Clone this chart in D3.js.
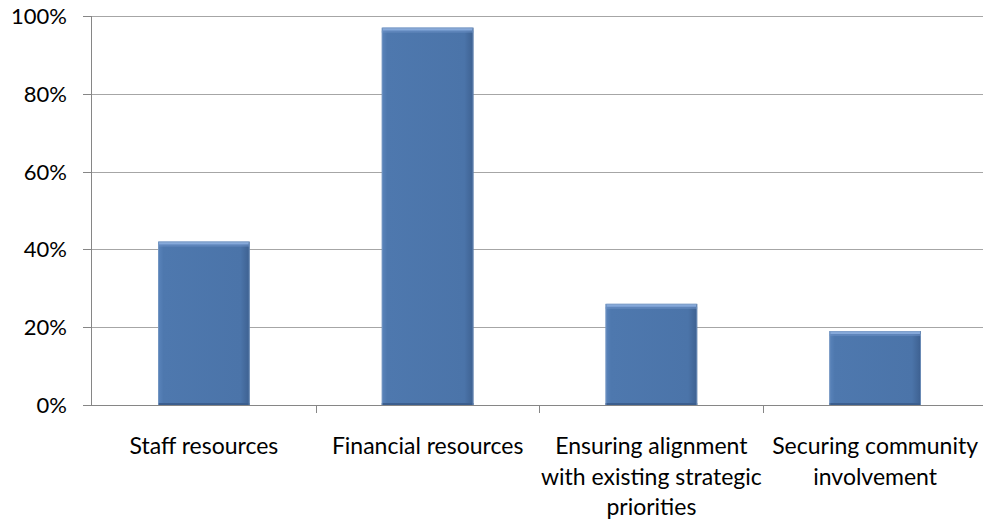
<!DOCTYPE html>
<html><head><meta charset="utf-8">
<script src="https://cdn.jsdelivr.net/npm/d3@7"></script>
<style>
html,body{margin:0;padding:0;background:#fff;}
svg{display:block;}
text{font-family:"Lato","DejaVu Sans Condensed",sans-serif;fill:#000;}
</style></head>
<body>
<svg id="chart" width="983" height="520"></svg>
<script>
const categories = ["Staff resources","Financial resources","Ensuring alignment with existing strategic priorities","Securing community involvement"];
const categoryLines = [["Staff resources"],["Financial resources"],["Ensuring alignment","with existing strategic","priorities"],["Securing community","involvement"]];
const values = [42, 97, 26, 19];
const yTicks = [0,20,40,60,80,100];

(function(){
const svg = d3.select("#chart");
const pLeft = 91, pRight = 983, pTop = 16, pBottom = 405;
const x = d3.scaleBand().domain(categories).range([92, 987]).paddingInner(0.59).paddingOuter(0.295);
const y = d3.scaleLinear().domain([0,100]).range([pBottom, pTop]);

const defs = svg.append("defs");
const gH = defs.append("linearGradient").attr("id","gh").attr("x1","0").attr("x2","1").attr("y1","0").attr("y2","0");
gH.append("stop").attr("offset","0").attr("stop-color","#5a84bb");
gH.append("stop").attr("offset","0.06").attr("stop-color","#4e78ae");
gH.append("stop").attr("offset","0.9").attr("stop-color","#4b74a9");
gH.append("stop").attr("offset","1").attr("stop-color","#3d6090");

svg.append("g").selectAll("line").data(yTicks.filter(d=>d>0)).join("line")
  .attr("x1", pLeft-8).attr("x2", pRight).attr("y1", d=>Math.round(y(d))+0.5).attr("y2", d=>Math.round(y(d))+0.5)
  .attr("stroke","#a6a6a6").attr("stroke-width",1);

const bg = svg.append("g").selectAll("g").data(values).join("g");
bg.append("rect")
  .attr("x",(d,i)=>x(categories[i])).attr("y",d=>y(d)).attr("width",x.bandwidth()).attr("height",d=>pBottom+1-y(d))
  .attr("fill","url(#gh)");
bg.append("rect")
  .attr("x",(d,i)=>x(categories[i])+1).attr("y",d=>y(d)).attr("width",x.bandwidth()-2).attr("height",3)
  .attr("fill","#86a9da");
bg.append("rect")
  .attr("x",(d,i)=>x(categories[i])).attr("y",d=>y(d)+3).attr("width",x.bandwidth()).attr("height",2)
  .attr("fill","#6b90c4").attr("opacity",0.6);
bg.append("rect")
  .attr("x",(d,i)=>x(categories[i])).attr("y",d=>pBottom-2).attr("width",x.bandwidth()).attr("height",3)
  .attr("fill","#3b5e8e");
bg.append("rect")
  .attr("x",(d,i)=>x(categories[i])+0.5).attr("y",d=>y(d)+0.5).attr("width",x.bandwidth()-1).attr("height",d=>pBottom-y(d))
  .attr("fill","none").attr("stroke","#7e9cc4").attr("stroke-width",1).attr("opacity",0.7);

svg.append("line").attr("x1",pLeft+0.5).attr("x2",pLeft+0.5).attr("y1",pTop).attr("y2",pBottom).attr("stroke","#868686");
svg.append("g").selectAll("line").data(yTicks).join("line")
  .attr("x1",pLeft-8).attr("x2",pLeft).attr("y1",d=>Math.round(y(d))+0.5).attr("y2",d=>Math.round(y(d))+0.5).attr("stroke","#868686");
svg.append("g").selectAll("text").data(yTicks).join("text")
  .attr("x",67).attr("y",d=>y(d)).attr("dy","0.36em").attr("text-anchor","end")
  .style("font-size","22px").text(d=>d+"%");

svg.append("line").attr("x1",pLeft-8).attr("x2",pRight).attr("y1",pBottom+0.5).attr("y2",pBottom+0.5).attr("stroke","#868686");
const bounds = categories.map(c=>x(c)-x.step()*x.paddingInner()/2);
svg.append("g").selectAll("line").data(bounds.slice(1)).join("line")
  .attr("x1",d=>Math.round(d)+0.5).attr("x2",d=>Math.round(d)+0.5).attr("y1",pBottom).attr("y2",pBottom+8).attr("stroke","#868686");

const lab = svg.append("g").selectAll("text").data(categories).join("text")
  .attr("text-anchor","middle").style("font-size","23px");
lab.each(function(c,i){
  const t = d3.select(this);
  const cx = x(c)+x.bandwidth()/2;
  categoryLines[i].forEach((ln,j)=>{
    t.append("tspan").attr("x",cx).attr("y",454+j*30.5).text(ln);
  });
});
})();
</script>
</body></html>
